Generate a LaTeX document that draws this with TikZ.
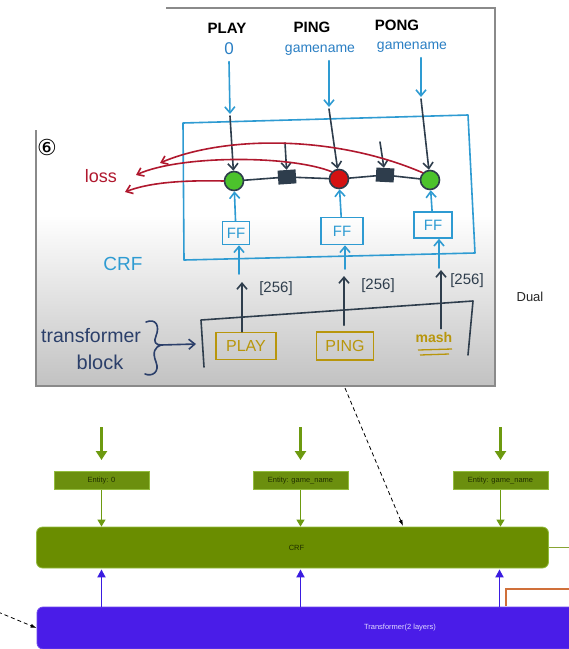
\documentclass[tikz,border=0pt]{standalone}
\usepackage{fontspec}
\setmainfont{Liberation Sans}
\newfontfamily\djv{DejaVu Sans}
\usetikzlibrary{arrows.meta,calc}
\definecolor{hblue}{HTML}{2E9BD2}
\definecolor{htext}{HTML}{2A7FC4}
\definecolor{hdark}{HTML}{2E3D4C}
\definecolor{hnavy}{HTML}{2B3F6A}
\definecolor{hred}{HTML}{B0182E}
\definecolor{hgold}{HTML}{B8960C}
\definecolor{ngreen}{HTML}{4CC22C}
\definecolor{nred}{HTML}{D41212}
\definecolor{panelgray}{HTML}{8A8A8A}
\definecolor{efill}{HTML}{6B8F0E}
\definecolor{eborder}{HTML}{93BC3E}
\definecolor{etext}{HTML}{1F2E00}
\definecolor{crffill}{HTML}{6A8D00}
\definecolor{garrow}{HTML}{6D9A10}
\definecolor{tfill}{HTML}{4A1CE8}
\definecolor{ttext}{HTML}{E2DAFF}
\definecolor{parrow}{HTML}{3A1CE0}
\definecolor{oline}{HTML}{D0703A}
\tikzset{
  fs/.style={font=\fontsize{#1}{#1}\selectfont},
  fsb/.style={font=\fontsize{#1}{#1}\selectfont\bfseries},
  hbline/.style={draw=hblue, line width=1.6pt, line cap=round, line join=round},
  hdline/.style={draw=hdark, line width=1.6pt, line cap=round, line join=round},
  barr/.style={hbline, -{Straight Barb[length=6pt,width=10pt]}},
  darr/.style={hdline, -{Straight Barb[length=6pt,width=10pt]}},
  rarr/.style={draw=hred, line width=1.6pt, line cap=round, -{Straight Barb[length=6pt,width=9pt]}},
  gnode/.style={circle, fill=ngreen, draw=hdark, line width=1.6pt, minimum size=19pt, inner sep=0pt},
  rnode/.style={circle, fill=nred, draw=hdark, line width=1.6pt, minimum size=19pt, inner sep=0pt},
  fsq/.style={rectangle, fill=hdark, minimum width=18pt, minimum height=14pt, inner sep=0pt},
  ffbox/.style={draw=hblue, line width=1.5pt, text=hblue, fs=15, inner sep=0pt},
  goldbox/.style={draw=hgold, line width=1.5pt, text=hgold, fs=16, inner sep=0pt},
  ebox/.style={rectangle, fill=efill, draw=eborder, line width=0.8pt, text=etext, fs=7.5, minimum width=95pt, minimum height=18pt, inner sep=0pt},
  crfbox/.style={rectangle, rounded corners=6pt, fill=crffill, draw=eborder, line width=0.8pt, text=etext, fs=7.5, inner sep=0pt},
  trbox/.style={rectangle, rounded corners=6pt, fill=tfill, draw=tfill!80!white, line width=0.8pt, text=ttext, fs=7.5, inner sep=0pt},
  garr/.style={draw=garrow, line width=3.5pt, -{Triangle[length=9pt,width=11pt]}},
  tgarr/.style={draw=garrow, line width=1.2pt, -{Triangle[length=7pt,width=8pt]}},
  parr/.style={draw=parrow, line width=1.8pt, -{Triangle[length=8pt,width=8pt]}},
  dasharr/.style={draw=black, line width=0.8pt, dash pattern=on 4pt off 3pt, -{Latex[length=6pt,width=4pt]}}
}
\begin{document}
\begin{tikzpicture}[x=1pt,y=-1pt]
\useasboundingbox (0,0) rectangle (569,649);
\clip (0,0) rectangle (569,649);
\fill[white] (0,0) rectangle (569,649);

% ---------- screenshot panel ----------
\fill[white] (36,8) rectangle (495,386);
\shade[top color=white, bottom color=black!24] (36,215) rectangle (495,386);
\draw[panelgray, line width=1.3pt] (166,8) -- (495,8) -- (495,386) -- (36,386) -- (36,130);
\node[font=\djv\fontsize{22}{22}\selectfont, inner sep=0pt] (six) at (47,147) {⑥};
\node[fs=13, text=black!85] (dual) at (530,297) {Dual};

% top labels
\node[fsb=15, text=black] (lplay) at (227,28) {PLAY};
\node[fs=17, text=htext] (l0) at (229,49) {0};
\node[fsb=15, text=black] (lping) at (312,27) {PING};
\node[fs=14, text=htext] (lgn1) at (320,50) {gamename};
\node[fsb=15, text=black] (lpong) at (397,25) {PONG};
\node[fs=14, text=htext] (lgn2) at (412,47) {gamename};

% CRF frame
\draw[hbline] (183,123) -- (468,115) -- (475,253) -- (184,260) -- cycle;
\node[fs=19, text=hblue] (crflabel) at (123,264) {CRF};

% chain nodes
\node[gnode] (n1) at (234,181) {};
\node[fsq, rotate=4] (s1) at (287,177) {};
\node[rnode] (n2) at (339,179) {};
\node[fsq, rotate=-3] (s2) at (385,175) {};
\node[gnode] (n3) at (430,180) {};
\draw[hdline] (n1) -- (s1) -- (n2) -- (s2) -- (n3);

% blue input arrows and dark arrows into nodes
\coordinate (b1) at (230,114);
\coordinate (b2) at (329,107);
\coordinate (b3) at (421,97);
\draw[barr] ([yshift=-3pt]l0.south) -- (b1);
\draw[barr] ([yshift=-2pt]lgn1.south -| b2) -- (b2);
\draw[barr] ([yshift=-2pt]lgn2.south -| b3) -- (b3);
\draw[darr] ([yshift=-2pt]b1) -- (n1);
\draw[darr] ([yshift=-2pt]b2) -- (n2);
\draw[darr] ([yshift=-2pt]b3) -- (n3);
\coordinate (a1) at (285,143);
\coordinate (a2) at (380,142);
\draw[darr] (a1) -- (s1);
\draw[darr] (a2) -- (s2);

% FF boxes
\node[ffbox, minimum width=27pt, minimum height=23pt] (ff1) at (236,233) {FF};
\node[ffbox, minimum width=42pt, minimum height=27pt] (ff2) at (342,231) {FF};
\node[ffbox, minimum width=38pt, minimum height=26pt] (ff3) at (433,225) {FF};
\draw[barr] (ff1) -- (n1);
\draw[barr] (ff2) -- (n2);
\draw[barr] (ff3) -- (n3);
\coordinate (c1) at (239,274);
\coordinate (c2) at (345,269);
\coordinate (c3) at (439,268);
\draw[barr] (c1) -- (c1 |- ff1.south);
\draw[barr] (c2) -- (c2 |- ff2.south);
\draw[barr] (c3) -- (c3 |- ff3.south);

% loss arrows
\node[fs=18, text=hred] (loss) at (101,176) {loss};
\coordinate (r1) at (125,192);
\coordinate (r2) at (136,175);
\coordinate (r3) at (160,163);
\draw[rarr] (n1.west) .. controls (180,180) and (148,183) .. (r1);
\draw[rarr] (n2.north west) .. controls (290,155) and (180,155) .. (r2);
\draw[rarr] (n3.north west) .. controls (330,133) and (220,137) .. (r3);

% transformer block
\draw[hdline] (204,367) -- (201,320) -- (473,301) -- (468,355);
\node[goldbox, minimum width=60pt, minimum height=27pt] (pplay) at (246,346) {PLAY};
\node[goldbox, minimum width=57pt, minimum height=28pt] (pping) at (345,346) {PING};
\node[fs=14, text=hgold, inner sep=1pt] (mash) at (434,337) {\textbf{mash}};
\draw[hgold, line width=1.3pt] (418,350) -- (452,349);
\draw[hgold, line width=1.3pt] (420,355) -- (449,354);
\coordinate (d1) at (242,282);
\coordinate (d2) at (344,276);
\coordinate (d3) at (441,270);
\draw[darr] (pplay.north -| d1) -- (d1);
\draw[darr] ([yshift=6pt]pping.north -| d2) -- (d2);
\draw[darr] ([yshift=2pt]mash.north -| d3) -- (d3);
\node[fs=15, text=hdark] (k1) at (276,289) {[256]};
\node[fs=15, text=hdark] (k2) at (378,286) {[256]};
\node[fs=15, text=hdark] (k3) at (467,281) {[256]};
\node[fs=19.5, text=hnavy] (ttr) at (91,336) {transformer};
\node[fs=20, text=hnavy] (tbl) at (100,362) {block};
\draw[hdline, draw=hnavy] (146,322) .. controls (156,318) and (160,326) .. (156,336)
  .. controls (153,342) and (156,345) .. (161,345)
  .. controls (155,347) and (152,352) .. (156,362)
  .. controls (160,372) and (152,377) .. (145,374);
\coordinate (tb) at (196,344);
\draw[darr, draw=hnavy] (161,345) -- (tb);

% ---------- lower diagram ----------
\node[ebox] (e1) at (101.5,480.5) {Entity: 0};
\node[ebox] (e2) at (300.5,480.5) {Entity: game\_name};
\node[ebox] (e3) at (500.5,480.5) {Entity: game\_name};
\node[crfbox, minimum width=512pt, minimum height=41pt] (crf) at (292.5,547.5) {\hspace*{8pt}CRF};
\node[trbox, minimum width=726pt, minimum height=42pt] (tr) at (400,628) {Transformer(2 layers)};

\coordinate (g1) at (101.5,427);
\coordinate (g2) at (300.5,427);
\coordinate (g3) at (500.5,427);
\draw[garr] (g1) -- (101.5,460);
\draw[garr] (g2) -- (300.5,460);
\draw[garr] (g3) -- (500.5,460);
\draw[tgarr] (e1.south) -- (e1.south |- crf.north);
\draw[tgarr] (e2.south) -- (e2.south |- crf.north);
\draw[tgarr] (e3.south) -- (e3.south |- crf.north);
\draw[parr] (e1.south |- tr.north) -- ([yshift=-1pt]e1.south |- crf.south);
\draw[parr] (e2.south |- tr.north) -- ([yshift=-1pt]e2.south |- crf.south);
\draw[parr] ([xshift=-1pt]e3.south |- tr.north) -- ([xshift=-1pt,yshift=-1pt]e3.south |- crf.south);
\draw[draw=crffill!80!white, line width=1.2pt] (crf.east) -- (580,547.5);
\draw[draw=oline, line width=1.5pt] (506,606) -- (506,589) -- (580,589);
\coordinate (ds1) at (345,388);
\coordinate (ds1e) at (403,526);
\draw[dasharr] (ds1) -- (ds1e);
\coordinate (ds2) at (-2,612);
\draw[dasharr] (ds2) -- (tr.west);
\end{tikzpicture}
\end{document}
